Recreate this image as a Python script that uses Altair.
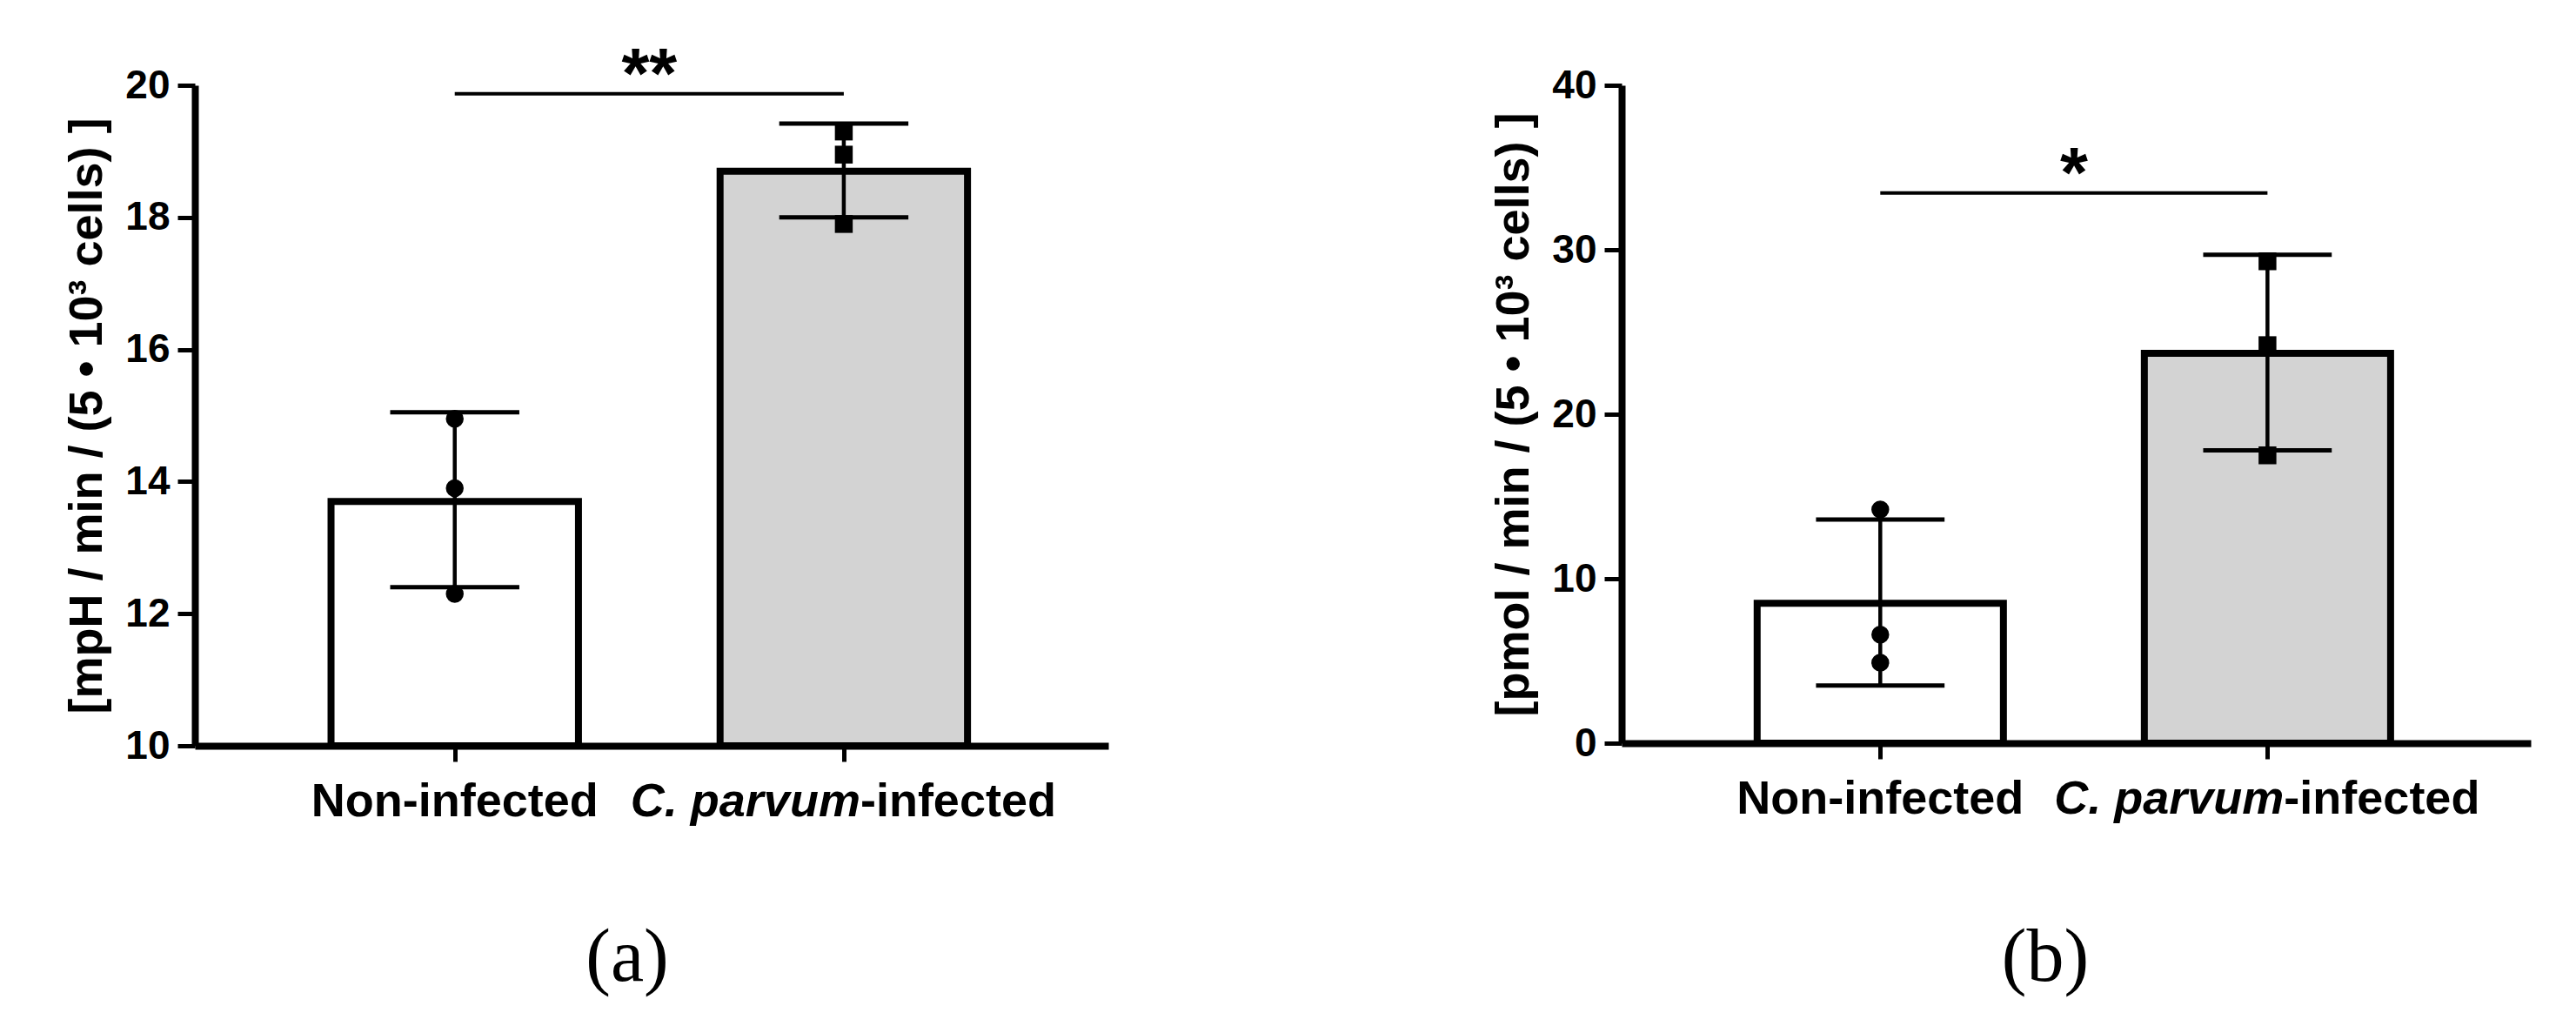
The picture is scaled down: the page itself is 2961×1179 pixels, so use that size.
import altair as alt
import pandas as pd

# ---------------- data ----------------
categories = ["Non-infected", "C. parvum-infected"]
cat_pos = [1, 2]
label_italic = ["", "C. parvum"]
label_plain = ["Non-infected", "-infected"]
bar_fill = ["#ffffff", "#d3d3d3"]
point_shape = ["circle", "square"]

# panel (a): ECAR  [mpH / min / (5 • 10³ cells)]
a_mean = [13.7, 18.7]
a_sd_low = [12.4, 18.0]
a_sd_high = [15.05, 19.42]
a_points_non = [14.95, 13.9, 12.3]
a_points_inf = [19.3, 18.95, 17.9]
a_ticks = [10, 12, 14, 16, 18, 20]
a_sig_y = [19.87]
a_sig_text = ["**"]

# panel (b): OCR  [pmol / min / (5 • 10³ cells)]
b_mean = [8.5, 23.7]
b_sd_low = [3.5, 17.8]
b_sd_high = [13.6, 29.7]
b_points_non = [14.2, 6.6, 4.9]
b_points_inf = [29.3, 24.2, 17.5]
b_ticks = [0, 10, 20, 30, 40]
b_sig_y = [33.45]
b_sig_text = ["*"]

FONT = "Liberation Sans"
SERIF = "Liberation Serif"


def panel(mean, lo, hi, pts_non, pts_inf, ticks, ytitle, sig_y, sig_text,
          tag, W, H, tag_x, tag_y):
    ymin, ymax = ticks[0], ticks[-1]
    bars_df = pd.DataFrame({
        "cat": categories, "pos": cat_pos, "mean": mean, "lo": lo, "hi": hi,
        "fill": bar_fill, "it": label_italic, "pl": label_plain,
        "base": [ymin, ymin],
    })
    rows = []
    for v in pts_non:
        rows.append({"pos": cat_pos[0], "val": v, "shape": point_shape[0]})
    for v in pts_inf:
        rows.append({"pos": cat_pos[1], "val": v, "shape": point_shape[1]})
    pts_df = pd.DataFrame(rows)
    sig_df = pd.DataFrame({"x1": [cat_pos[0]], "x2": [cat_pos[1]],
                           "y": sig_y, "t": sig_text})

    xscale = alt.Scale(domain=[0.332, 2.68], nice=False, zero=False)
    yscale = alt.Scale(domain=[ymin, ymax], nice=False, zero=False)

    xaxis = alt.Axis(values=cat_pos, labels=False, title=None, grid=False,
                     tickSize=18, tickWidth=5, tickColor="black",
                     domainWidth=8, domainColor="black")
    yaxis = alt.Axis(values=ticks, format="d", title=ytitle, grid=False,
                     titleFont=FONT, titleFontSize=54, titleFontWeight="bold",
                     titleColor="black", titlePadding=16,
                     labelFont=FONT, labelFontSize=46, labelFontWeight="bold",
                     labelColor="black", labelPadding=9, labelFlush=False,
                     tickSize=20, tickWidth=5, tickColor="black",
                     domainWidth=8, domainColor="black")

    base = alt.Chart(bars_df).transform_calculate(
        bx1="datum.pos - 0.318", bx2="datum.pos + 0.318",
        cx1="datum.pos - 0.166", cx2="datum.pos + 0.166",
    )
    bars = base.mark_bar(stroke="black", strokeWidth=8).encode(
        x=alt.X("bx1:Q", scale=xscale, axis=xaxis),
        x2="bx2:Q",
        y=alt.Y("mean:Q", scale=yscale, axis=yaxis),
        y2="base:Q",
        fill=alt.Fill("fill:N", scale=None),
    )
    err = base.mark_rule(color="black", strokeWidth=4.5).encode(
        x="pos:Q", y="lo:Q", y2="hi:Q")
    cap_lo = base.mark_rule(color="black", strokeWidth=5).encode(
        x="cx1:Q", x2="cx2:Q", y="lo:Q")
    cap_hi = base.mark_rule(color="black", strokeWidth=5).encode(
        x="cx1:Q", x2="cx2:Q", y="hi:Q")
    points = alt.Chart(pts_df).mark_point(filled=True, color="black",
                                          opacity=1, size=420).encode(
        x="pos:Q", y="val:Q", shape=alt.Shape("shape:N", scale=None))

    sig_line = alt.Chart(sig_df).mark_rule(color="black", strokeWidth=4).encode(
        x="x1:Q", x2="x2:Q", y="y:Q")
    sig_txt = alt.Chart(sig_df).transform_calculate(
        xm="(datum.x1 + datum.x2) / 2").mark_text(
        font=FONT, fontSize=82, fontWeight="bold", color="black",
        baseline="alphabetic", align="center", dy=4).encode(
        x="xm:Q", y="y:Q", text="t:N")

    lab_y = alt.value(H + 81)
    lab_non = base.transform_filter("datum.it == ''").mark_text(
        font=FONT, fontSize=54, fontWeight="bold", color="black",
        baseline="alphabetic", align="center").encode(
        x="pos:Q", y=lab_y, text="pl:N")
    lab_it = base.transform_filter("datum.it != ''").mark_text(
        font=FONT, fontSize=54, fontWeight="bold", fontStyle="italic",
        color="black", baseline="alphabetic", align="right", dx=19).encode(
        x="pos:Q", y=lab_y, text="it:N")
    lab_pl = base.transform_filter("datum.it != ''").mark_text(
        font=FONT, fontSize=54, fontWeight="bold", color="black",
        baseline="alphabetic", align="left", dx=19).encode(
        x="pos:Q", y=lab_y, text="pl:N")

    tag_txt = alt.Chart(pd.DataFrame({"t": [tag]})).mark_text(
        font=SERIF, fontSize=86, color="black", baseline="middle",
        align="center").encode(
        x=alt.value(tag_x), y=alt.value(tag_y), text="t:N")

    return alt.layer(bars, err, cap_lo, cap_hi, points, sig_line, sig_txt,
                     lab_non, lab_it, lab_pl, tag_txt).properties(
        width=W, height=H)


pa = panel(a_mean, a_sd_low, a_sd_high, a_points_non, a_points_inf, a_ticks,
           "[mpH / min / (5 • 10³ cells) ]", a_sig_y, a_sig_text, "(a)",
           1050, 759, 497, 1003)
pb = panel(b_mean, b_sd_low, b_sd_high, b_points_non, b_points_inf, b_ticks,
           "[pmol / min / (5 • 10³ cells) ]", b_sig_y, b_sig_text, "(b)",
           1045, 756, 487, 1003)

chart = alt.hconcat(pa, pb, spacing=590, bounds="flush").configure_view(
    stroke=None).properties(
    background="white",
    padding={"left": 65, "top": 37, "right": 5, "bottom": 5})

chart.save("out.html", embed_options={"renderer": "svg", "actions": False})
